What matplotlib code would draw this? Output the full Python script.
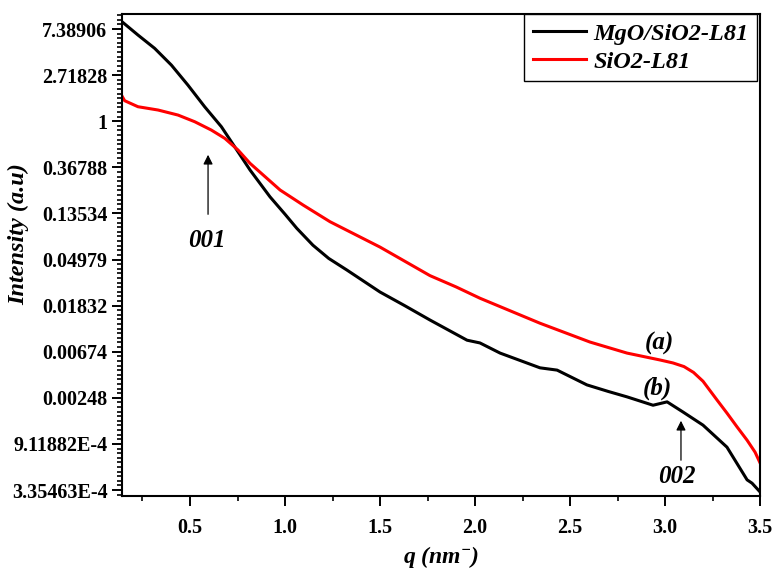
import numpy as np
import matplotlib
matplotlib.use("Agg")
import matplotlib.pyplot as plt
from matplotlib.ticker import FixedLocator, NullFormatter

plt.rcParams['font.family'] = ['Liberation Serif', 'DejaVu Serif']
plt.rcParams['font.weight'] = 'bold'
plt.rcParams['mathtext.fontset'] = 'custom'
plt.rcParams['mathtext.rm'] = 'Liberation Serif:italic:bold'
plt.rcParams['mathtext.it'] = 'Liberation Serif:italic:bold'

# MgO/SiO2-L81 (curve b)
q_mgo = [0.142, 0.226, 0.314, 0.402, 0.489, 0.577, 0.665, 0.735, 0.816, 0.921, 1.0,
         1.062, 1.147, 1.23, 1.326, 1.5, 1.63, 1.763, 1.958, 2.026, 2.132, 2.342,
         2.432, 2.589, 2.7, 2.8, 2.937, 3.011, 3.095, 3.2, 3.326, 3.432, 3.458, 3.5]
i_mgo = [8.66, 6.49, 4.86, 3.38, 2.19, 1.370, 0.888, 0.575, 0.347, 0.194, 0.133,
         0.0980, 0.0679, 0.0510, 0.0396, 0.0246, 0.0183, 0.0134, 0.00865, 0.00815,
         0.00654, 0.00475, 0.00452, 0.00328, 0.00285, 0.00253, 0.00211, 0.00227,
         0.00182, 0.00137, 0.00085, 0.000418, 0.000389, 0.000322]

# SiO2-L81 (curve a)
q_sio2 = [0.142, 0.156, 0.226, 0.332, 0.437, 0.525, 0.612, 0.683, 0.753, 0.816, 0.974,
          1.096, 1.237, 1.5, 1.763, 1.9, 2.026, 2.342, 2.605, 2.8, 2.974, 3.042, 3.1,
          3.15, 3.2, 3.274, 3.326, 3.379, 3.432, 3.474, 3.5]
i_sio2 = [1.728, 1.561, 1.370, 1.275, 1.143, 0.989, 0.826, 0.690, 0.535, 0.401, 0.225,
          0.162, 0.113, 0.0652, 0.0351, 0.0275, 0.0215, 0.0125, 0.00831, 0.00654,
          0.00563, 0.00528, 0.00488, 0.00430, 0.00355, 0.00236, 0.00178, 0.00132,
          0.000988, 0.000762, 0.000605]

y_powers = list(range(-8, 3))
y_labels = ['3.35463E-4', '9.11882E-4', '0.00248', '0.00674', '0.01832', '0.04979',
            '0.13534', '0.36788', '1', '2.71828', '7.38906']
x_ticks = [0.5, 1.0, 1.5, 2.0, 2.5, 3.0, 3.5]

fig = plt.figure(figsize=(7.73, 5.74), dpi=100)
ax = fig.add_axes([0.1578, 0.1359, 0.8254, 0.8397])

ax.plot(q_mgo, i_mgo, color='black', lw=2.2, label='MgO/SiO2-L81')
ax.plot(q_sio2, i_sio2, color='red', lw=2.2, label='SiO2-L81')

ax.set_yscale('log', base=np.e)
ax.set_xlim(0.142, 3.5)
ax.set_ylim(np.exp(-8.13), np.exp(2.326))

major_y = [np.exp(k) for k in y_powers]
minor_y = [np.exp(k + j / 10) for k in range(-9, 3) for j in range(1, 10)]
ax.yaxis.set_major_locator(FixedLocator(major_y))
ax.yaxis.set_minor_locator(FixedLocator(minor_y))
ax.set_yticklabels(y_labels)
ax.yaxis.set_minor_formatter(NullFormatter())
ax.set_xticks(x_ticks)
ax.set_xticklabels(['%.1f' % v for v in x_ticks])
ax.xaxis.set_minor_locator(FixedLocator(np.arange(0.25, 3.6, 0.5)))

ax.tick_params(axis='both', which='major', direction='out', length=7, width=1.4,
               labelsize=14.5)
ax.tick_params(axis='both', which='minor', direction='out', length=3.5, width=1.2)
ax.tick_params(axis='x', which='major', pad=9)
for s in ax.spines.values():
    s.set_linewidth(1.5)

ax.set_ylabel('Intensity (a.u)', fontsize=17.5, fontstyle='italic', fontweight='bold')
ax.yaxis.set_label_coords(-0.145, 0.544)
ax.set_xlabel('q (nm$^{-}$)', fontsize=17, fontstyle='italic', fontweight='bold')
ax.xaxis.set_label_coords(0.5, -0.1)

txt = dict(fontsize=18, fontstyle='italic', fontweight='bold', ha='center', va='center')
arrow = dict(arrowstyle='-|>', color='black', lw=0.9, mutation_scale=14)
ax.annotate('', xy=(0.595, 0.513), xytext=(0.595, 0.125), arrowprops=arrow)
ax.text(0.589, 0.076, '001', **txt)
ax.annotate('', xy=(3.084, 0.0016), xytext=(3.084, 0.000603), arrowprops=arrow)
ax.text(3.063, 0.000445, '002', **txt)
ax.text(2.968, 0.00814, '(a)', **txt)
ax.text(2.958, 0.00307, '(b)', **txt)

leg = ax.legend(loc='upper right', bbox_to_anchor=(0.9953, 1.0), borderaxespad=0,
                fancybox=False, edgecolor='black', framealpha=1,
                prop=dict(family='Liberation Serif', style='italic', weight='bold', size=17.5),
                handlelength=2.2, handletextpad=0.3, labelspacing=0.25, borderpad=0.35)
leg.get_frame().set_linewidth(1.0)

fig.savefig('out.png', dpi=100)
